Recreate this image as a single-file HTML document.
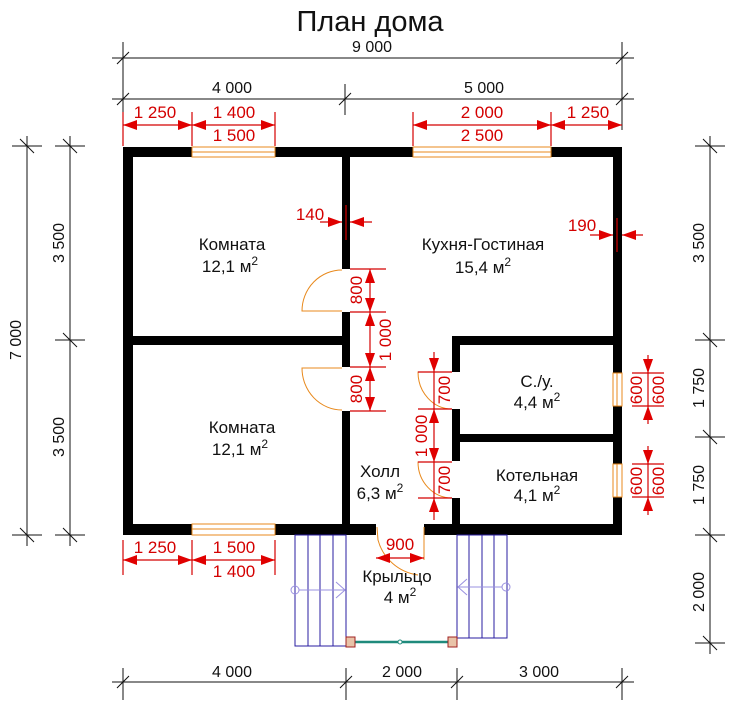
<!DOCTYPE html>
<html><head><meta charset="utf-8"><style>
html,body{margin:0;padding:0;background:#fff}
svg{display:block}
text{font-family:"Liberation Sans","DejaVu Sans",sans-serif}
.k{fill:#111;font-size:17px;text-anchor:middle}
.r{fill:#d40000;font-size:17px;text-anchor:middle}
.d{fill:#111;font-size:16px;text-anchor:middle}
.dl{stroke:#111;stroke-width:1;fill:none}
.rl{stroke:#d40000;stroke-width:1.2;fill:none}
.w{fill:#000}
.o{stroke:#e8891c;stroke-width:1;fill:none}
.s{stroke:#2a1ca0;stroke-width:1;fill:none}
</style></head><body>
<svg width="736" height="712" viewBox="0 0 736 712" xmlns="http://www.w3.org/2000/svg">
<defs>
<marker id="a" viewBox="0 0 14 10" refX="14" refY="5" markerWidth="14" markerHeight="10" markerUnits="userSpaceOnUse" orient="auto-start-reverse"><path d="M0,0 L14,5 L0,10 Z" fill="#e00000"/></marker>
</defs>
<text x="370" y="31" style="font-size:29px;fill:#111;text-anchor:middle">План дома</text>

<!-- top black dims -->
<g class="dl">
<line x1="112" y1="58" x2="634" y2="58"/><line x1="123" y1="42" x2="123" y2="130"/><line x1="622" y1="42" x2="622" y2="130"/>
<line x1="112" y1="99" x2="634" y2="99"/><line x1="345" y1="84" x2="345" y2="115"/>
<line x1="117" y1="64" x2="129" y2="52"/><line x1="616" y1="64" x2="628" y2="52"/>
<line x1="117" y1="105" x2="129" y2="93"/><line x1="339" y1="105" x2="351" y2="93"/><line x1="616" y1="105" x2="628" y2="93"/>
</g>
<text class="d" x="372" y="52">9 000</text>
<text class="d" x="232" y="93">4 000</text>
<text class="d" x="484" y="93">5 000</text>

<!-- top red dims -->
<g class="rl">
<line x1="192" y1="112" x2="192" y2="146"/><line x1="275" y1="112" x2="275" y2="146"/>
<line x1="413" y1="112" x2="413" y2="146"/><line x1="551" y1="112" x2="551" y2="146"/>
<line x1="123" y1="112" x2="123" y2="146"/>
<line x1="123" y1="125" x2="192" y2="125" marker-start="url(#a)" marker-end="url(#a)"/>
<line x1="192" y1="125" x2="275" y2="125" marker-start="url(#a)" marker-end="url(#a)"/>
<line x1="413" y1="125" x2="551" y2="125" marker-start="url(#a)" marker-end="url(#a)"/>
<line x1="551" y1="125" x2="622" y2="125" marker-start="url(#a)" marker-end="url(#a)"/>
</g>
<text class="r" x="155" y="118">1 250</text>
<text class="r" x="234" y="118">1 400</text>
<text class="r" x="234" y="141">1 500</text>
<text class="r" x="482" y="118">2 000</text>
<text class="r" x="482" y="141">2 500</text>
<text class="r" x="588" y="118">1 250</text>

<!-- left dims -->
<g class="dl">
<line x1="27" y1="136" x2="27" y2="546"/><line x1="70" y1="136" x2="70" y2="546"/>
<line x1="12" y1="146" x2="42" y2="146"/><line x1="55" y1="146" x2="85" y2="146"/>
<line x1="55" y1="340" x2="85" y2="340"/>
<line x1="12" y1="535" x2="42" y2="535"/><line x1="55" y1="535" x2="85" y2="535"/>
<line x1="20" y1="139" x2="34" y2="153"/><line x1="63" y1="139" x2="77" y2="153"/><line x1="63" y1="333" x2="77" y2="347"/>
<line x1="20" y1="528" x2="34" y2="542"/><line x1="63" y1="528" x2="77" y2="542"/>
</g>
<text class="d" transform="translate(21,340) rotate(-90)">7 000</text>
<text class="d" transform="translate(64,243) rotate(-90)">3 500</text>
<text class="d" transform="translate(64,437) rotate(-90)">3 500</text>

<!-- right dims -->
<g class="dl">
<line x1="710" y1="136" x2="710" y2="654"/>
<line x1="695" y1="146" x2="725" y2="146"/><line x1="695" y1="340" x2="725" y2="340"/>
<line x1="695" y1="437" x2="725" y2="437"/><line x1="695" y1="535" x2="725" y2="535"/><line x1="695" y1="643" x2="725" y2="643"/>
<line x1="703" y1="139" x2="717" y2="153"/><line x1="703" y1="333" x2="717" y2="347"/><line x1="703" y1="430" x2="717" y2="444"/>
<line x1="703" y1="528" x2="717" y2="542"/><line x1="703" y1="636" x2="717" y2="650"/>
</g>
<text class="d" transform="translate(704,243) rotate(-90)">3 500</text>
<text class="d" transform="translate(704,388) rotate(-90)">1 750</text>
<text class="d" transform="translate(704,485) rotate(-90)">1 750</text>
<text class="d" transform="translate(704,592) rotate(-90)">2 000</text>

<!-- bottom dims -->
<g class="dl">
<line x1="112" y1="682" x2="634" y2="682"/>
<line x1="123" y1="668" x2="123" y2="700"/><line x1="346" y1="668" x2="346" y2="700"/><line x1="457" y1="668" x2="457" y2="700"/><line x1="622" y1="668" x2="622" y2="700"/>
<line x1="117" y1="688" x2="129" y2="676"/><line x1="340" y1="688" x2="352" y2="676"/><line x1="451" y1="688" x2="463" y2="676"/><line x1="616" y1="688" x2="628" y2="676"/>
</g>
<text class="d" x="232" y="677">4 000</text>
<text class="d" x="402" y="677">2 000</text>
<text class="d" x="539" y="677">3 000</text>

<!-- walls -->
<g class="w">
<rect x="123" y="147" width="69" height="10"/>
<rect x="275" y="147" width="138" height="10"/>
<rect x="551" y="147" width="71" height="10"/>
<rect x="123" y="147" width="10" height="388"/>
<rect x="613" y="147" width="9" height="226"/>
<rect x="613" y="406" width="9" height="58"/>
<rect x="613" y="497" width="9" height="38"/>
<rect x="123" y="524" width="69" height="11"/>
<rect x="275" y="524" width="101" height="11"/>
<rect x="424" y="524" width="198" height="11"/>
<rect x="342" y="147" width="8" height="122"/>
<rect x="342" y="312" width="8" height="55"/>
<rect x="342" y="411" width="8" height="124"/>
<rect x="123" y="336" width="227" height="9"/>
<rect x="452" y="336" width="170" height="9"/>
<rect x="452" y="336" width="8" height="36"/>
<rect x="452" y="409" width="8" height="52"/>
<rect x="452" y="498" width="8" height="37"/>
<rect x="452" y="434" width="170" height="8"/>
</g>

<!-- windows -->
<g class="o">
<rect x="192" y="147" width="83" height="10"/><line x1="192" y1="152" x2="275" y2="152"/>
<rect x="413" y="147" width="138" height="10"/><line x1="413" y1="152" x2="551" y2="152"/>
<rect x="192" y="524" width="83" height="11"/><line x1="192" y1="529" x2="275" y2="529"/>
<rect x="613" y="373" width="9" height="33"/><line x1="617" y1="373" x2="617" y2="406"/>
<rect x="613" y="464" width="9" height="33"/><line x1="617" y1="464" x2="617" y2="497"/>
</g>

<!-- doors -->
<g class="o">
<path d="M342,270 A40,41 0 0 0 302,311 L342,311"/>
<path d="M342,368 L302,368 A40,42 0 0 0 342,410"/>
<path d="M452,372 L418,372 A34,37 0 0 0 452,409"/>
<path d="M452,462 L418,462 A34,36 0 0 0 452,498"/>
<path d="M377,527 L378,540 A48,48 0 0 0 418,575"/>
<path d="M424,527 L424,560"/>
</g>

<!-- interior red dims -->
<g class="rl">
<line x1="350" y1="269" x2="386" y2="269"/><line x1="350" y1="312" x2="386" y2="312"/>
<line x1="350" y1="367" x2="386" y2="367"/><line x1="350" y1="411" x2="386" y2="411"/>
<line x1="370" y1="269" x2="370" y2="312" marker-start="url(#a)" marker-end="url(#a)"/>
<line x1="370" y1="312" x2="370" y2="367" marker-start="url(#a)" marker-end="url(#a)"/>
<line x1="370" y1="367" x2="370" y2="411" marker-start="url(#a)" marker-end="url(#a)"/>
<line x1="418" y1="372" x2="452" y2="372"/><line x1="418" y1="409" x2="452" y2="409"/>
<line x1="418" y1="462" x2="452" y2="462"/><line x1="418" y1="498" x2="452" y2="498"/>
<line x1="434" y1="352" x2="434" y2="372" marker-end="url(#a)"/>
<line x1="434" y1="372" x2="434" y2="409"/>
<line x1="434" y1="409" x2="434" y2="462" marker-start="url(#a)" marker-end="url(#a)"/>
<line x1="434" y1="462" x2="434" y2="498"/>
<line x1="434" y1="520" x2="434" y2="498" marker-end="url(#a)"/>
<line x1="320" y1="222" x2="342" y2="222" marker-end="url(#a)"/>
<line x1="372" y1="222" x2="350" y2="222" marker-end="url(#a)"/>
<line x1="346" y1="205" x2="346" y2="240"/>
<line x1="590" y1="235" x2="613" y2="235" marker-end="url(#a)"/>
<line x1="643" y1="235" x2="622" y2="235" marker-end="url(#a)"/>
<line x1="617" y1="218" x2="617" y2="252"/>
<line x1="632" y1="373" x2="664" y2="373"/><line x1="632" y1="406" x2="664" y2="406"/>
<line x1="648" y1="355" x2="648" y2="373" marker-end="url(#a)"/>
<line x1="648" y1="373" x2="648" y2="406"/>
<line x1="648" y1="424" x2="648" y2="406" marker-end="url(#a)"/>
<line x1="632" y1="464" x2="664" y2="464"/><line x1="632" y1="497" x2="664" y2="497"/>
<line x1="648" y1="446" x2="648" y2="464" marker-end="url(#a)"/>
<line x1="648" y1="464" x2="648" y2="497"/>
<line x1="648" y1="515" x2="648" y2="497" marker-end="url(#a)"/>
<line x1="376" y1="558" x2="424" y2="558" marker-start="url(#a)" marker-end="url(#a)"/>
<line x1="123" y1="540" x2="123" y2="575"/><line x1="192" y1="540" x2="192" y2="575"/><line x1="275" y1="540" x2="275" y2="575"/>
<line x1="123" y1="560" x2="192" y2="560" marker-start="url(#a)" marker-end="url(#a)"/>
<line x1="192" y1="560" x2="275" y2="560" marker-start="url(#a)" marker-end="url(#a)"/>
</g>
<text class="r" transform="translate(362,290) rotate(-90)">800</text>
<text class="r" transform="translate(391,340) rotate(-90)">1 000</text>
<text class="r" transform="translate(362,389) rotate(-90)">800</text>
<text class="r" transform="translate(450,390) rotate(-90)">700</text>
<text class="r" transform="translate(427,436) rotate(-90)">1 000</text>
<text class="r" transform="translate(450,480) rotate(-90)">700</text>
<text class="r" transform="translate(642,390) rotate(-90)">600</text>
<text class="r" transform="translate(664,390) rotate(-90)">600</text>
<text class="r" transform="translate(642,481) rotate(-90)">600</text>
<text class="r" transform="translate(664,481) rotate(-90)">600</text>
<text class="r" x="310" y="220">140</text>
<text class="r" x="582" y="231">190</text>
<text class="r" x="400" y="550">900</text>
<text class="r" x="155" y="553">1 250</text>
<text class="r" x="234" y="553">1 500</text>
<text class="r" x="234" y="577">1 400</text>

<!-- stairs -->
<g class="s">
<rect x="295" y="535" width="51" height="111"/>
<line x1="308" y1="535" x2="308" y2="646"/><line x1="320" y1="535" x2="320" y2="646"/><line x1="333" y1="535" x2="333" y2="646"/>
<rect x="457" y="535" width="50" height="103"/>
<line x1="469" y1="535" x2="469" y2="638"/><line x1="482" y1="535" x2="482" y2="638"/><line x1="494" y1="535" x2="494" y2="638"/>
</g>
<g stroke="#9a90e0" stroke-width="1" fill="none">
<circle cx="295" cy="590" r="4"/><line x1="299" y1="590" x2="345" y2="590"/><path d="M336,582 L345,590 L336,598"/>
<circle cx="506" cy="587" r="4"/><line x1="458" y1="587" x2="502" y2="587"/><path d="M467,579 L458,587 L467,595"/>
</g>
<line x1="352" y1="642" x2="450" y2="642" stroke="#1f8a7c" stroke-width="2.5"/>
<circle cx="400" cy="642" r="2" fill="#fff" stroke="#1f8a7c"/>
<rect x="346" y="637" width="9" height="10" fill="#e9c3a8" stroke="#a02020"/>
<rect x="448" y="637" width="9" height="10" fill="#e9c3a8" stroke="#a02020"/>

<!-- labels -->
<text class="k" x="232" y="250">Комната</text>
<text class="k" x="230" y="272">12,1 м<tspan dy="-7" font-size="12">2</tspan></text>
<text class="k" x="242" y="433">Комната</text>
<text class="k" x="240" y="455">12,1 м<tspan dy="-7" font-size="12">2</tspan></text>
<text class="k" x="483" y="250">Кухня-Гостиная</text>
<text class="k" x="483" y="273">15,4 м<tspan dy="-7" font-size="12">2</tspan></text>
<text class="k" x="537" y="387">С./у.</text>
<text class="k" x="537" y="408">4,4 м<tspan dy="-7" font-size="12">2</tspan></text>
<text class="k" x="537" y="481">Котельная</text>
<text class="k" x="537" y="501">4,1 м<tspan dy="-7" font-size="12">2</tspan></text>
<text class="k" x="380" y="477">Холл</text>
<text class="k" x="380" y="499">6,3 м<tspan dy="-7" font-size="12">2</tspan></text>
<text class="k" x="397" y="582">Крыльцо</text>
<text class="k" x="400" y="603">4 м<tspan dy="-7" font-size="12">2</tspan></text>
</svg>
</body></html>
